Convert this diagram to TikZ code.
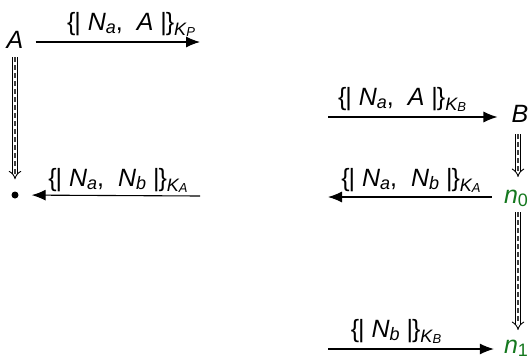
\documentclass[tikz,border=0pt]{standalone}
\usepackage{fontspec}
\setmainfont{Liberation Sans}
\usetikzlibrary{arrows.meta}
\newcommand{\mysub}[1]{\raisebox{-0.12em}{\fontsize{18}{18}\selectfont\itshape #1}}
\newcommand{\mydigit}[1]{\raisebox{-0.12em}{\fontsize{18}{18}\selectfont #1}}
\newcommand{\mysubsub}[1]{\raisebox{-0.1em}{\fontsize{13}{13}\selectfont\itshape #1}}
\newcommand{\encl}{\{\kern-1pt|\ }
\newcommand{\encr}{\ |\kern-1pt\}}
\newcommand{\key}[2]{\raisebox{-0.08em}{\mysub{#1\mysubsub{#2}}}}
\definecolor{ngreen}{RGB}{20,120,30}
\begin{document}
\begin{tikzpicture}[x=1pt,y=-1pt,font=\fontsize{25}{28}\selectfont,
  msg/.style={line width=1.1pt,-{Latex[length=14pt,width=11pt]}},
  lbl/.style={inner sep=0pt,anchor=base},
  dbl/.style={double,double distance=3.5pt,line width=0.9pt,-{Implies}},
  dsh/.style={line width=2.2pt,dash pattern=on 5pt off 3pt,black!75},
  ag/.style={inner sep=0pt,anchor=base},
  st/.style={inner sep=0pt,anchor=base,text=ngreen}]
\useasboundingbox (0,0) rectangle (529,359);
% left column
\node[ag] (A) at (15,48) {\textit{A}};
\node[circle,fill,inner sep=0pt,minimum size=7pt] (dot) at (15,195) {};
% right column
\node[ag] (B) at (520,122) {\textit{B}};
\node[st] (n0) at (516,203) {\textit{n}\mydigit{0}};
\node[st] (n1) at (516,353) {\textit{n}\mydigit{1}};
% free ends
\coordinate (c1) at (200,42);
\coordinate (c2) at (200,196);
\coordinate (c3) at (328,117);
\coordinate (c4) at (328,197);
\coordinate (c5) at (328,349);
% messages
\draw[msg] ([xshift=12pt]A.east |- c1) -- (c1);
\draw[msg,shorten >=13pt] (c2) -- (dot);
\draw[msg] (c3) -- ([xshift=-14pt]B.west |- c3);
\draw[msg] ([xshift=-12pt]n0.west |- c4) -- (c4);
\draw[msg] (c5) -- ([xshift=-10pt]n1.west |- c5);
% labels
\node[lbl] (l1) at (131,30) {\encl\textit{N}\mysub{a}, \ \textit{A}\encr\key{K}{P}};
\node[lbl] (l2) at (118,186) {\encl\textit{N}\mysub{a}, \ \textit{N}\mysub{b}\encr\key{K}{A}};
\node[lbl] (l3) at (402,105) {\encl\textit{N}\mysub{a}, \ \textit{A}\encr\key{K}{B}};
\node[lbl] (l4) at (411,186) {\encl\textit{N}\mysub{a}, \ \textit{N}\mysub{b}\encr\key{K}{A}};
\node[lbl] (l5) at (396,337) {\encl\textit{N}\mysub{b}\encr\key{K}{B}};
% state transitions
\coordinate (a0) at ([yshift=-9pt]A.south);
\draw[dbl,shorten >=12pt] (a0) -- (dot.north);
\draw[dsh,shorten >=16pt] (a0) -- (dot.north);
\coordinate (b0) at ([yshift=-12pt,xshift=-2pt]B.south);
\coordinate (b1) at (b0 |- 0,177);
\draw[dbl] (b0) -- (b1);
\draw[dsh,shorten >=6pt] (b0) -- (b1);
\coordinate (m0) at (b0 |- 0,212);
\coordinate (m1) at (b0 |- 0,330);
\draw[dbl] (m0) -- (m1);
\draw[dsh,shorten >=6pt] (m0) -- (m1);
\end{tikzpicture}
\end{document}
